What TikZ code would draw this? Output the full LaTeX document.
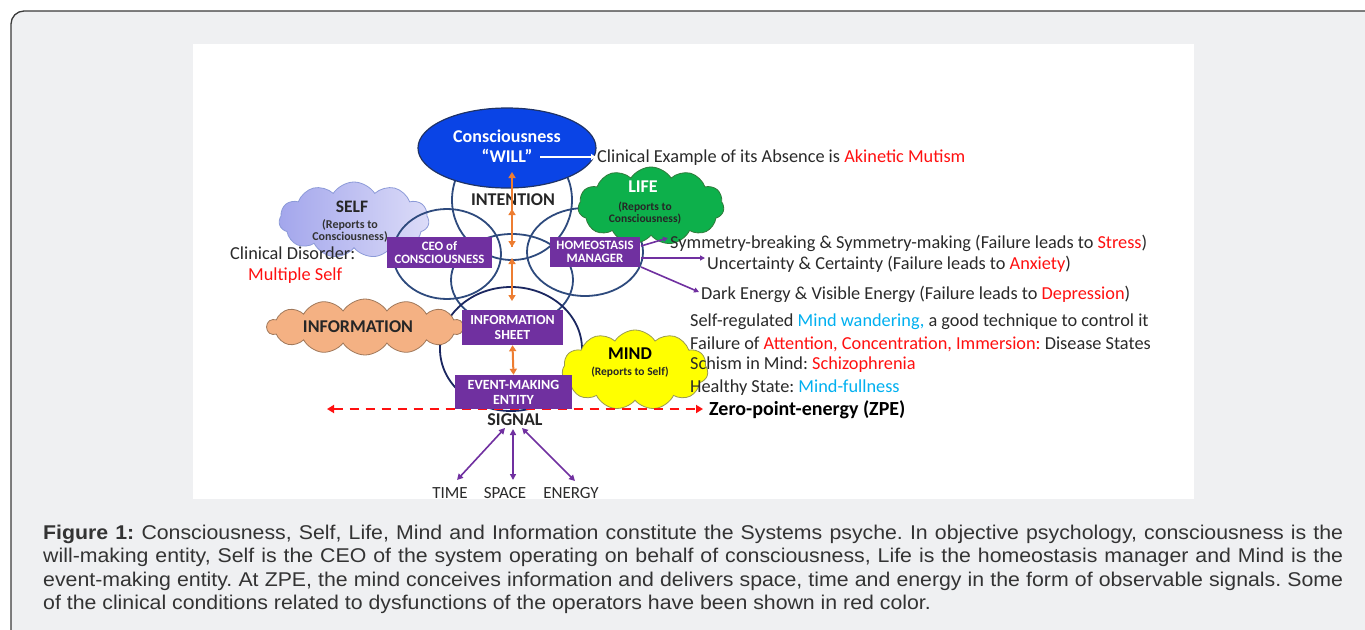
\documentclass[tikz,border=0pt]{standalone}
\usepackage{fontspec}
\setmainfont{Carlito}
\newfontfamily\capfont[FakeStretch=1.07]{Liberation Sans}
\usetikzlibrary{shapes.geometric,shapes.symbols,arrows.meta}
\definecolor{bgray}{HTML}{EFF0F2}
\definecolor{framegray}{HTML}{3A3A3A}
\definecolor{dtext}{HTML}{2A2A2A}
\definecolor{captext}{HTML}{333333}
\definecolor{cred}{HTML}{FF1010}
\definecolor{cblue}{HTML}{00B0F0}
\definecolor{consblue}{HTML}{0A44E6}
\definecolor{consnavy}{HTML}{1F3366}
\definecolor{ringblue}{HTML}{2E4A7D}
\definecolor{ringdark}{HTML}{1B2760}
\definecolor{boxpurple}{HTML}{7030A0}
\definecolor{oran}{HTML}{ED7D31}
\definecolor{ppl}{HTML}{7030A0}
\definecolor{selfL}{HTML}{A3A6EC}
\definecolor{selfR}{HTML}{DCDCF8}
\definecolor{selfline}{HTML}{8C9AD8}
\definecolor{lifegreen}{HTML}{0DB04B}
\definecolor{lifeline}{HTML}{2F7A3A}
\definecolor{infofill}{HTML}{F4B183}
\definecolor{infoline}{HTML}{A0785A}
\definecolor{mindfill}{HTML}{FFFF00}
\definecolor{mindline}{HTML}{9A9A50}
\newcommand\fsz[2]{\fontsize{#1}{#2}\selectfont}
\frenchspacing
\begin{document}
\begin{tikzpicture}[x=1pt,y=-1pt,
  txt/.style={anchor=base west, inner sep=0pt, text=dtext, font=\fsz{18.3}{20}},
  pbox/.style={rectangle, fill=boxpurple, text=white, font=\bfseries\fsz{12.8}{13}, align=center, inner sep=0pt},
  ring/.style={ellipse, draw=ringblue, line width=1.8pt, inner sep=0pt},
  cld/.style={cloud, cloud puffs=11, cloud puff arc=115, inner sep=0pt, line width=0.8pt},
  oarr/.style={draw=oran, line width=2pt, {Triangle[width=7pt,length=6pt]}-{Triangle[width=7pt,length=6pt]}},
  oone/.style={draw=oran, line width=2pt, -{Triangle[width=7pt,length=6pt]}},
  parr/.style={draw=ppl, line width=1.6pt, -{Triangle[width=5pt,length=5pt]}},
  pdbl/.style={draw=ppl, line width=1.6pt, {Triangle[width=6pt,length=6pt]}-{Triangle[width=6pt,length=6pt]}},
  capline/.style={anchor=base west, inner sep=0pt, text=captext, font=\capfont\fsz{19.9}{24}},
]
\useasboundingbox (0,0) rectangle (1365,629);
% frame and image area
\draw[fill=bgray, draw=framegray, line width=1.3pt, rounded corners=13pt] (11,11) rectangle (1392,645);
\fill[white] (193,44) rectangle (1194,499);

% SELF cloud (under rings)
\node[cld, minimum width=150pt, minimum height=76pt, left color=selfL, right color=selfR, draw=selfline] (selfc) at (354,220) {};

% rings
\node[ring, minimum width=120pt, minimum height=120pt] (cint) at (512,200) {};
\node[ring, minimum width=108pt, minimum height=90pt] (cceo) at (447,254) {};
\node[ring, minimum width=116pt, minimum height=88pt] (chom) at (585,252) {};
\node[ring, minimum width=122pt, minimum height=92pt] (cmid) at (512,280) {};
\node[ring, draw=ringdark, minimum width=142pt, minimum height=124pt] (cbig) at (511,349) {};

% consciousness ellipse
\node[ellipse, fill=consblue, draw=consnavy, line width=1.2pt, minimum width=178pt, minimum height=80pt, inner sep=0pt] (cons) at (507,148) {};
\node[text=white, font=\bfseries\fsz{18}{20}, align=center, inner sep=0pt] (constxt) at (507,146) {Consciousness\\“WILL”};

% other clouds
\node[cld, minimum width=146pt, minimum height=78pt, fill=lifegreen, draw=lifeline] (lifec) at (651,206) {};
\node[cld, cloud puffs=14, minimum width=196pt, minimum height=56pt, fill=infofill, draw=infoline] (infoc) at (365,327) {};
\node[cld, minimum width=146pt, minimum height=80pt, fill=mindfill, draw=mindline] (mindc) at (635,370) {};

% cloud texts
\node[font=\bfseries\fsz{17.5}{18}, text=black!85, inner sep=0pt] (selft) at (352,207) {SELF};
\node[font=\bfseries\fsz{12}{12.5}, text=black!80, align=center, inner sep=0pt] (selfs) at (350,231) {(Reports to\\Consciousness)};
\node[font=\bfseries\fsz{18}{18}, text=white, inner sep=0pt] (lifet) at (643,187) {LIFE};
\node[font=\bfseries\fsz{11.5}{12.5}, text=black!85, align=center, inner sep=0pt] (lifes) at (645,213) {(Reports to\\Consciousness)};
\node[font=\bfseries\fsz{18}{18}, text=black!85, inner sep=0pt] (infot) at (358,327) {INFORMATION};
\node[font=\bfseries\fsz{18}{18}, text=black, inner sep=0pt] (mindt) at (630,354) {MIND};
\node[font=\bfseries\fsz{11.5}{12}, text=black!85, inner sep=0pt] (minds) at (630,372) {(Reports to Self)};
\node[font=\bfseries\fsz{18}{18}, text=black!85, inner sep=0pt] (intent) at (513,200) {INTENTION};

% red dashed ZPE line
\coordinate (zl) at (327,409);
\coordinate (zr) at (703,409);
\draw[cred, line width=2.2pt, dash pattern=on 9pt off 7pt, {Triangle[width=8pt,length=7pt]}-{Triangle[width=8pt,length=7pt]}] (zl) -- (zr);

% purple boxes
\node[pbox, minimum width=105pt, minimum height=31pt] (ceo) at (439.5,252.5) {CEO of\\CONSCIOUSNESS};
\node[pbox, minimum width=90pt, minimum height=30pt] (hom) at (595,252) {HOMEOSTASIS\\MANAGER};
\node[pbox, minimum width=101pt, minimum height=35pt, font=\bfseries\fsz{13.8}{15}] (sheet) at (512.5,327.5) {INFORMATION\\SHEET};
\node[pbox, minimum width=117pt, minimum height=34pt, font=\bfseries\fsz{14}{15}] (event) at (513.5,392) {EVENT-MAKING\\ENTITY};

% orange arrows
\coordinate (o1) at (512,172);
\coordinate (o2) at (512,209);
\coordinate (o3) at (512,247);
\coordinate (o4) at (512,258);
\coordinate (o5) at (512,301);
\draw[oarr] (o1) -- (o3);
\draw[oone] (o3) -- (o2);
\draw[oarr] (o4) -- (o5);
\draw[oarr] (sheet.south) -- (event.north);

% white arrow from WILL
\coordinate (w1) at (540,157);
\coordinate (w2) at (596,157);
\draw[white, line width=1.6pt, -{Triangle[width=6pt,length=5pt]}] (w1) -- (w2);

% right-hand texts
\node[txt] (absence) at (597,162) {Clinical Example of its Absence is \textcolor{cred}{Akinetic Mutism}};
\node[txt] (sym) at (670,248) {Symmetry-breaking \& Symmetry-making (Failure leads to \textcolor{cred}{Stress})};
\node[txt] (unc) at (707,269) {Uncertainty \& Certainty (Failure leads to \textcolor{cred}{Anxiety})};
\node[txt] (dark) at (701,299) {Dark Energy \& Visible Energy (Failure leads to \textcolor{cred}{Depression})};
\node[txt] (wander) at (690,326) {Self-regulated \textcolor{cblue}{Mind wandering,} a good technique to control it};
\node[txt] (fail) at (690,349) {Failure of \textcolor{cred}{Attention, Concentration, Immersion:} Disease States};
\node[txt] (schism) at (690,369) {Schism in Mind: \textcolor{cred}{Schizophrenia}};
\node[txt] (healthy) at (690,392) {Healthy State: \textcolor{cblue}{Mind-fullness}};
\node[txt, font=\bfseries\fsz{20}{20}, text=black] (zpe) at (709,415) {Zero-point-energy (ZPE)};
\node[txt] (disorder) at (230,259) {Clinical Disorder:};
\node[txt, text=cred] (multi) at (248,280) {Multiple Self};

% homeostasis arrows
\coordinate (h1) at (641,246);
\coordinate (h2) at (641,258);
\coordinate (h3) at (641,267);
\coordinate (t1) at (668,238);
\coordinate (t2) at (705,258);
\coordinate (t3) at (699,292);
\draw[parr] (h1) -- (t1);
\draw[parr] (h2) -- (t2);
\draw[parr] (h3) -- (t3);

% signal
\node[font=\bfseries\fsz{18}{18}, text=black!85, inner sep=0pt] (signal) at (515,420) {SIGNAL};
\node[font=\fsz{17}{17}, text=dtext, inner sep=0pt] (time) at (450,493) {TIME};
\node[font=\fsz{17}{17}, text=dtext, inner sep=0pt] (space) at (505,493) {SPACE};
\node[font=\fsz{17}{17}, text=dtext, inner sep=0pt] (energy) at (571,493) {ENERGY};
\coordinate (s1) at (505,428);
\coordinate (s2) at (513,429);
\coordinate (s3) at (522,428);
\coordinate (b1) at (457,480);
\coordinate (b2) at (513,480);
\coordinate (b3) at (575,481);
\draw[pdbl] (s1) -- (b1);
\draw[pdbl] (s2) -- (b2);
\draw[pdbl] (s3) -- (b3);

% caption
\node[capline] (cap1) at (43,539) {\makebox[1300pt][s]{\textbf{Figure 1:} Consciousness, Self, Life, Mind and Information constitute the Systems psyche. In objective psychology, consciousness is the}};
\node[capline] (cap2) at (43,562.5) {\makebox[1300pt][s]{will-making entity, Self is the CEO of the system operating on behalf of consciousness, Life is the homeostasis manager and Mind is the}};
\node[capline] (cap3) at (43,586) {\makebox[1300pt][s]{event-making entity. At ZPE, the mind conceives information and delivers space, time and energy in the form of observable signals. Some}};
\node[capline] (cap4) at (43,609.5) {of the clinical conditions related to dysfunctions of the operators have been shown in red color.};
\end{tikzpicture}
\end{document}
